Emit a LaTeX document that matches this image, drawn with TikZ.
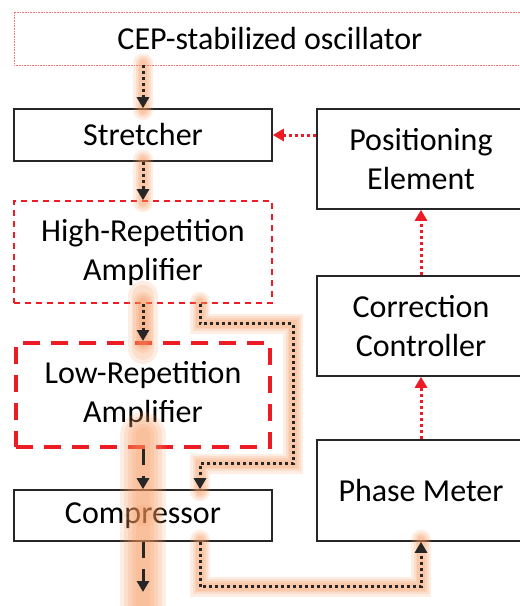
\documentclass[tikz,border=0pt]{standalone}
\usepackage{fontspec}
\setmainfont{Carlito}
\usetikzlibrary{arrows.meta}
\usetikzlibrary{positioning}

\definecolor{beamred}{RGB}{237,28,36}
\definecolor{glowcol}{RGB}{246,150,90}

\begin{document}
\begin{tikzpicture}
        [x=1pt,y=-1pt,
        block/.style={rectangle,draw=black!85,line width=1.6pt,inner sep=0pt,align=center,
          font=\fontsize{32}{39}\selectfont},
        seed/.style={block,draw=beamred!60,line width=0.6pt,densely dotted},
        hirep/.style={block,draw=beamred,line width=1.6pt,dash pattern=on 6pt off 5pt},
        lorep/.style={block,draw=beamred,line width=4pt,dash pattern=on 17pt off 11pt},
        halo/.style 2 args={preaction={draw=glowcol,-,solid,line cap=round,line width=#1,opacity=0.17,
            shorten <=-#2,shorten >=-#2}},
        glow/.style={halo={20pt}{2pt},halo={15pt}{2pt},halo={11pt}{2pt},halo={8pt}{2pt}},
        wideglow/.style={halo={46pt}{14pt},halo={38pt}{14pt},halo={30pt}{14pt},halo={22pt}{14pt},halo={14pt}{14pt}},
        pulse/.style={-{Triangle[width=12pt,length=11pt]},draw=black!85,line width=3pt,
          dash pattern=on 3pt off 3pt},
        amp/.style={-{Triangle[width=12pt,length=11pt]},draw=black!85,line width=3pt,
          dash pattern=on 16pt off 11pt},
        feedback/.style={-{Triangle[width=12pt,length=11pt]},draw=beamred,line width=3pt,
          dash pattern=on 3pt off 3pt}]

\useasboundingbox (0,0) rectangle (520,606);

% laser chain
\node[seed,minimum width=512pt,minimum height=53pt] at (270,38.5) (oscillator) {CEP-stabilized oscillator};
\node[block,minimum width=258pt,minimum height=52pt] at (143,135) (stretcher) {Stretcher};
\node[hirep,minimum width=258pt,minimum height=102pt] at (143,252) (hirep) {High-Repetition\\Amplifier};
\node[lorep,minimum width=254pt,minimum height=104pt] at (143,395) (lorep) {Low-Repetition\\Amplifier};
\node[block,minimum width=258pt,minimum height=51pt] at (143,515.5) (compressor) {Compressor};
\coordinate (out) at (143,592);

% feedback loop
\node[block,minimum width=208pt,minimum height=100pt] at (421,159) (positioner) {Positioning\\Element};
\node[block,minimum width=208pt,minimum height=100pt] at (421,326) (controller) {Correction\\Controller};
\node[block,minimum width=208pt,minimum height=101pt] at (421,490.5) (phasemeter) {Phase Meter};

%arrows
\draw[pulse,glow] (stretcher.north |- oscillator.south) -- (stretcher.north);
\draw[pulse,glow] (stretcher.south) -- (hirep.north);
\draw[pulse,halo={30pt}{8pt},halo={22pt}{8pt},glow] (hirep.south) -- (lorep.north);
\draw[amp,wideglow] (lorep.south) -- (compressor.north);
\draw[amp,wideglow] (compressor.south) -- (out);

\draw[pulse,glow] ([xshift=57pt]hirep.south) -- ++(0,20) -- ++(93,0) -- ++(0,140) -- ++(-93,0)
  -- ([xshift=57pt]compressor.north);
\draw[pulse,glow] ([xshift=57pt]compressor.south) -- ++(0,45) -| (phasemeter.south);

\draw[feedback] (phasemeter.north) -- (controller.south);
\draw[feedback] (controller.north) -- (positioner.south);
\draw[feedback] (positioner.west |- stretcher.east) -- (stretcher.east);

\end{tikzpicture}
\end{document}
